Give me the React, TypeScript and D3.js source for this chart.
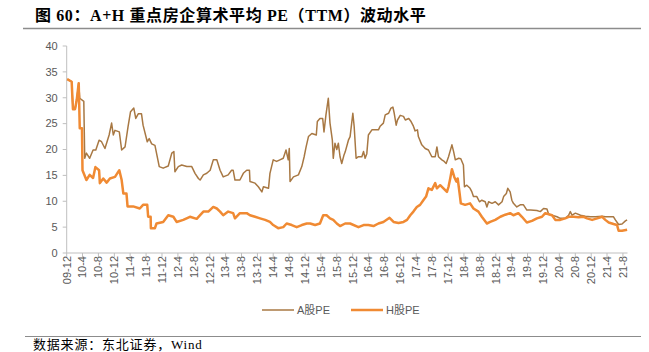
import React from 'react';
import * as d3 from 'd3';

// A股 / H股 average PE (TTM)
const aSeries: [string, number][] = [
  ['2009-12-05', 33.6], ['2010-01-08', 33.1], ['2010-01-18', 27.8], ['2010-02-03', 27.8],
  ['2010-02-16', 29.6], ['2010-03-03', 32.8], ['2010-03-11', 29.9], ['2010-04-11', 29.3],
  ['2010-04-18', 18.3], ['2010-05-01', 19.3], ['2010-05-26', 18.3], ['2010-06-21', 19.9],
  ['2010-07-12', 19.9], ['2010-08-06', 21.8], ['2010-08-25', 21.5], ['2010-09-20', 20.2],
  ['2010-10-22', 22.8], ['2010-11-10', 25.1], ['2010-11-23', 22.8], ['2010-12-06', 23.7],
  ['2011-01-08', 23.4], ['2011-01-26', 19.9], ['2011-02-21', 20.5], ['2011-03-16', 24.4],
  ['2011-04-04', 27.3], ['2011-04-29', 28.0], ['2011-05-14', 26.0], ['2011-06-02', 26.9],
  ['2011-06-27', 26.9], ['2011-07-09', 24.7], ['2011-08-10', 21.5], ['2011-08-25', 22.1],
  ['2011-09-13', 21.1], ['2011-10-08', 20.8], ['2011-11-10', 16.7], ['2011-12-10', 16.4],
  ['2012-01-18', 16.8], ['2012-02-14', 19.3], ['2012-03-01', 19.6], ['2012-03-09', 15.7],
  ['2012-04-04', 16.7], ['2012-04-30', 17.0], ['2012-06-08', 16.7], ['2012-07-16', 16.7],
  ['2012-08-10', 15.4], ['2012-09-05', 14.4], ['2012-09-18', 14.1], ['2012-10-13', 15.1],
  ['2012-11-08', 15.4], ['2012-12-04', 16.0], ['2012-12-28', 18.0], ['2013-01-24', 18.0],
  ['2013-02-18', 16.0], ['2013-03-14', 14.7], ['2013-04-21', 15.1], ['2013-05-17', 16.0],
  ['2013-05-29', 16.0], ['2013-06-12', 14.1], ['2013-07-20', 14.1], ['2013-08-15', 15.4],
  ['2013-09-10', 16.0], ['2013-10-01', 16.0], ['2013-10-05', 13.8], ['2013-11-13', 13.5],
  ['2013-12-08', 12.8], ['2014-01-04', 11.8], ['2014-01-16', 12.8], ['2014-02-24', 12.5],
  ['2014-03-07', 15.4], ['2014-04-01', 18.0], ['2014-04-27', 17.7], ['2014-05-22', 18.0],
  ['2014-06-17', 18.3], ['2014-07-08', 19.9], ['2014-07-25', 18.0], ['2014-08-02', 20.2],
  ['2014-08-08', 13.8], ['2014-09-03', 14.7], ['2014-10-11', 15.1], ['2014-11-06', 16.7],
  ['2014-11-24', 18.6], ['2014-12-09', 20.5], ['2014-12-27', 22.5], ['2015-01-22', 23.1],
  ['2015-02-25', 22.8], ['2015-03-05', 25.4], ['2015-03-25', 26.0], ['2015-04-15', 26.0],
  ['2015-04-25', 23.4], ['2015-05-10', 26.7], ['2015-05-28', 29.9], ['2015-06-10', 25.1],
  ['2015-06-28', 21.8], ['2015-07-05', 18.3], ['2015-07-18', 21.2], ['2015-08-01', 20.0],
  ['2015-08-13', 21.2], ['2015-08-26', 18.6], ['2015-09-08', 17.3], ['2015-09-26', 19.0],
  ['2015-10-04', 19.5], ['2015-10-29', 21.8], ['2015-11-11', 22.5], ['2015-12-02', 27.0],
  ['2015-12-12', 24.5], ['2015-12-27', 18.3], ['2016-01-14', 18.6], ['2016-02-09', 18.6],
  ['2016-02-22', 19.6], ['2016-03-05', 18.3], ['2016-03-18', 19.2], ['2016-03-30', 22.8],
  ['2016-04-26', 23.8], ['2016-05-21', 23.8], ['2016-06-15', 23.8], ['2016-06-28', 24.5],
  ['2016-07-23', 25.1], ['2016-08-06', 26.7], ['2016-09-01', 27.0], ['2016-09-19', 28.0],
  ['2016-10-04', 28.2], ['2016-10-14', 27.0], ['2016-10-29', 24.7], ['2016-11-08', 25.7],
  ['2016-11-29', 26.6], ['2016-12-24', 26.4], ['2017-01-07', 25.7], ['2017-02-02', 26.0],
  ['2017-02-20', 25.4], ['2017-03-10', 24.5], ['2017-03-23', 23.6], ['2017-04-10', 23.8],
  ['2017-04-17', 22.5], ['2017-05-13', 20.9], ['2017-06-08', 20.2], ['2017-07-03', 19.9],
  ['2017-07-29', 18.6], ['2017-08-24', 18.6], ['2017-09-06', 20.5], ['2017-09-18', 18.6],
  ['2017-10-14', 18.0], ['2017-11-01', 17.7], ['2017-11-16', 17.3], ['2017-12-04', 18.6],
  ['2017-12-30', 20.9], ['2018-01-12', 19.6], ['2018-01-25', 18.0], ['2018-02-20', 18.3],
  ['2018-03-08', 18.2], ['2018-03-28', 17.0], ['2018-04-05', 12.8], ['2018-04-23', 13.1],
  ['2018-05-18', 12.5], ['2018-06-01', 11.8], ['2018-06-13', 10.9], ['2018-07-09', 10.9],
  ['2018-07-29', 9.9], ['2018-08-16', 10.2], ['2018-09-11', 9.9], ['2018-09-24', 8.9],
  ['2018-10-07', 9.9], ['2018-11-02', 9.6], ['2018-11-27', 9.9], ['2018-12-22', 9.3],
  ['2019-01-18', 9.9], ['2019-01-30', 10.9], ['2019-02-20', 11.5], ['2019-03-03', 12.5],
  ['2019-03-21', 11.8], ['2019-04-03', 10.2], ['2019-04-15', 9.6], ['2019-05-11', 8.9],
  ['2019-06-06', 9.3], ['2019-07-01', 9.3], ['2019-07-27', 8.3], ['2019-08-25', 8.3],
  ['2019-10-12', 8.2], ['2019-11-07', 8.0], ['2019-12-02', 8.6], ['2019-12-28', 8.5],
  ['2020-01-10', 7.5], ['2020-02-05', 7.3], ['2020-03-14', 7.0], ['2020-04-08', 6.7],
  ['2020-05-16', 6.7], ['2020-06-11', 7.3], ['2020-06-24', 8.0], ['2020-07-07', 7.3],
  ['2020-08-02', 7.7], ['2020-09-10', 7.3], ['2020-10-17', 7.1], ['2020-11-25', 7.0],
  ['2021-01-03', 7.0], ['2021-02-23', 7.1], ['2021-03-19', 7.0], ['2021-04-29', 7.0],
  ['2021-05-21', 7.0], ['2021-06-04', 6.4], ['2021-06-29', 5.5], ['2021-07-25', 5.6],
  ['2021-08-20', 6.2], ['2021-09-02', 6.4],
];

const hSeries: [string, number][] = [
  ['2009-12-05', 33.6], ['2010-01-08', 33.1], ['2010-01-18', 27.8], ['2010-02-03', 27.8],
  ['2010-02-16', 29.6], ['2010-03-03', 32.8], ['2010-03-11', 24.1], ['2010-03-28', 24.1],
  ['2010-04-01', 16.0], ['2010-05-01', 14.1], ['2010-05-26', 15.1], ['2010-06-21', 14.5],
  ['2010-07-09', 16.6], ['2010-08-06', 16.0], ['2010-08-12', 13.5], ['2010-09-07', 14.4],
  ['2010-10-03', 13.6], ['2010-10-28', 14.4], ['2010-12-06', 14.7], ['2011-01-08', 16.0],
  ['2011-01-26', 14.1], ['2011-02-08', 11.5], ['2011-03-04', 11.5], ['2011-03-12', 9.0],
  ['2011-04-24', 9.0], ['2011-06-14', 8.6], ['2011-07-09', 9.3], ['2011-08-10', 9.3],
  ['2011-08-17', 7.0], ['2011-09-05', 7.0], ['2011-09-07', 4.8], ['2011-10-08', 4.8],
  ['2011-10-20', 5.7], ['2011-12-10', 6.0], ['2012-01-18', 7.3], ['2012-02-26', 7.0],
  ['2012-03-22', 6.0], ['2012-05-12', 6.4], ['2012-07-02', 7.0], ['2012-08-23', 6.6],
  ['2012-09-18', 7.3], ['2012-10-13', 8.0], ['2012-11-20', 8.0], ['2012-12-28', 8.9],
  ['2013-01-24', 8.6], ['2013-02-18', 8.0], ['2013-03-14', 7.3], ['2013-04-21', 8.0],
  ['2013-05-29', 7.7], ['2013-06-12', 6.7], ['2013-07-20', 7.7], ['2013-09-10', 7.7],
  ['2013-10-05', 7.3], ['2013-11-13', 7.0], ['2013-12-21', 6.7], ['2014-01-29', 6.4],
  ['2014-03-07', 6.0], ['2014-04-01', 5.4], ['2014-05-09', 4.8], ['2014-06-17', 5.0],
  ['2014-07-13', 5.7], ['2014-08-21', 5.4], ['2014-09-28', 5.0], ['2014-11-06', 5.4],
  ['2014-12-14', 5.7], ['2015-01-09', 5.7], ['2015-02-16', 5.4], ['2015-03-25', 5.7],
  ['2015-04-19', 7.3], ['2015-05-15', 7.3], ['2015-06-10', 6.7], ['2015-07-05', 6.4],
  ['2015-08-01', 5.7], ['2015-08-26', 5.2], ['2015-10-04', 5.7], ['2015-11-11', 5.7],
  ['2016-01-14', 5.0], ['2016-02-22', 5.4], ['2016-03-30', 5.4], ['2016-05-08', 5.2],
  ['2016-06-15', 5.7], ['2016-07-23', 6.0], ['2016-09-08', 6.8], ['2016-10-09', 6.0],
  ['2016-11-16', 5.8], ['2016-12-24', 6.0], ['2017-01-20', 6.4], ['2017-02-14', 7.3],
  ['2017-03-10', 8.0], ['2017-04-05', 8.9], ['2017-04-30', 9.3], ['2017-05-25', 10.2],
  ['2017-06-15', 10.9], ['2017-07-03', 12.5], ['2017-07-29', 12.2], ['2017-08-24', 13.5],
  ['2017-09-06', 12.5], ['2017-10-01', 13.1], ['2017-10-26', 12.5], ['2017-11-22', 11.8],
  ['2017-12-04', 12.8], ['2017-12-17', 14.4], ['2017-12-30', 16.2], ['2018-01-17', 14.7],
  ['2018-02-02', 13.8], ['2018-02-12', 14.4], ['2018-02-27', 11.5], ['2018-03-08', 9.6],
  ['2018-04-10', 9.3], ['2018-05-18', 9.6], ['2018-06-13', 8.6], ['2018-07-21', 8.0],
  ['2018-08-16', 7.0], ['2018-09-24', 5.7], ['2018-10-19', 6.0], ['2018-11-27', 6.4],
  ['2019-01-05', 7.0], ['2019-02-12', 7.4], ['2019-03-21', 7.7], ['2019-04-15', 7.3],
  ['2019-05-23', 7.7], ['2019-06-19', 7.0], ['2019-07-27', 5.9], ['2019-09-04', 6.2],
  ['2019-10-12', 6.7], ['2019-11-20', 7.0], ['2019-12-15', 7.7], ['2020-01-10', 7.5],
  ['2020-02-05', 7.3], ['2020-03-01', 6.4], ['2020-04-08', 6.4], ['2020-05-16', 6.7],
  ['2020-06-11', 7.0], ['2020-07-19', 7.0], ['2020-08-27', 6.9], ['2020-10-04', 7.0],
  ['2020-10-30', 6.7], ['2020-12-08', 6.4], ['2021-01-16', 6.7], ['2021-02-23', 7.0],
  ['2021-03-19', 6.4], ['2021-04-14', 5.9], ['2021-05-21', 5.6], ['2021-06-17', 5.4],
  ['2021-06-29', 4.3], ['2021-07-25', 4.3], ['2021-09-02', 4.5],
];

const xTickLabels = [
  '09-12', '10-4', '10-8', '10-12', '11-4', '11-8', '11-12', '12-4', '12-8', '12-12',
  '13-4', '13-8', '13-12', '14-4', '14-8', '14-12', '15-4', '15-8', '15-12', '16-4',
  '16-8', '16-12', '17-4', '17-8', '17-12', '18-4', '18-8', '18-12', '19-4', '19-8',
  '19-12', '20-4', '20-8', '20-12', '21-4', '21-8',
];
const yTicks = [0, 5, 10, 15, 20, 25, 30, 35, 40];

const seriesNames = ['A股PE', 'H股PE'];
const colors = ['#A87843', '#F08A33'];

const W = 649;
const H = 352;
const labelFont = 'Liberation Sans, Arial, Noto Sans CJK SC, sans-serif';
const serifFont = 'Liberation Serif, Noto Sans CJK SC, serif';

const parse = d3.timeParse('%Y-%m-%d');
const tickDate = (s: string) => {
  const [yy, mm] = s.split('-').map(Number);
  return new Date(2000 + yy, mm - 1, 1);
};

export default function App() {
  const x = d3.scaleTime()
    .domain([new Date(2009, 11, 1), new Date(2021, 8, 5)])
    .range([66.7, 627.5]);
  const y = d3.scaleLinear().domain([0, 40]).range([253, 46]);

  const line = d3.line<[string, number]>()
    .x(d => x(parse(d[0])!))
    .y(d => y(d[1]));

  const x0 = x.range()[0];
  const x1 = x.range()[1];

  return (
    <div style={{ position: 'absolute', left: 0, top: 0 }}>
      <svg width={W} height={H} style={{ display: 'block', background: '#fff' }}>
        {/* title */}
        <text x={35} y={21} fontSize={16} fontWeight="bold" letterSpacing={0.6}
          fontFamily={serifFont} fill="#000">
          图 60：A+H 重点房企算术平均 PE（TTM）波动水平
        </text>
        <line x1={23} x2={641} y1={28.5} y2={28.5} stroke="#8c8c8c" strokeWidth={1.5} />

        {/* y axis */}
        <line x1={x0} x2={x0} y1={y(40)} y2={y(0)} stroke="#bfbfbf" />
        {yTicks.map(t => (
          <g key={t}>
            <line x1={x0 - 4} x2={x0} y1={y(t)} y2={y(t)} stroke="#bfbfbf" />
            <text x={x0 - 9} y={y(t)} dy="0.35em" textAnchor="end" fontSize={11}
              fontFamily={labelFont} fill="#595959">{t}</text>
          </g>
        ))}

        {/* x axis */}
        <line x1={x0} x2={x1} y1={y(0)} y2={y(0)} stroke="#bfbfbf" />
        {xTickLabels.map(l => {
          const px = x(tickDate(l));
          return (
            <g key={l}>
              <line x1={px} x2={px} y1={y(0)} y2={y(0) + 4} stroke="#bfbfbf" />
              <text transform={`translate(${px},${y(0) + 3}) rotate(-90)`} dy="0.35em"
                textAnchor="end" fontSize={11} fontFamily={labelFont} fill="#595959">{l}</text>
            </g>
          );
        })}

        {/* series */}
        <path d={line(aSeries) ?? ''} fill="none" stroke={colors[0]} strokeWidth={1.5}
          strokeLinejoin="round" />
        <path d={line(hSeries) ?? ''} fill="none" stroke={colors[1]} strokeWidth={2.5}
          strokeLinejoin="round" />

        {/* legend */}
        {seriesNames.map((n, i) => {
          const lx = 262 + i * 89;
          return (
            <g key={n}>
              <line x1={lx} x2={lx + 32} y1={310} y2={310} stroke={colors[i]}
                strokeWidth={i === 0 ? 1.5 : 2.5} />
              <text x={lx + 35} y={310} dy="0.35em" fontSize={11} fontFamily={labelFont}
                fill="#595959">{n}</text>
            </g>
          );
        })}

        {/* source */}
        <line x1={25} x2={641} y1={336.5} y2={336.5} stroke="#8c8c8c" strokeWidth={1} />
        <text x={33} y={349} fontSize={13} letterSpacing={0.8} fontFamily={serifFont}
          fill="#000">数据来源：东北证券，Wind</text>
      </svg>
    </div>
  );
}
